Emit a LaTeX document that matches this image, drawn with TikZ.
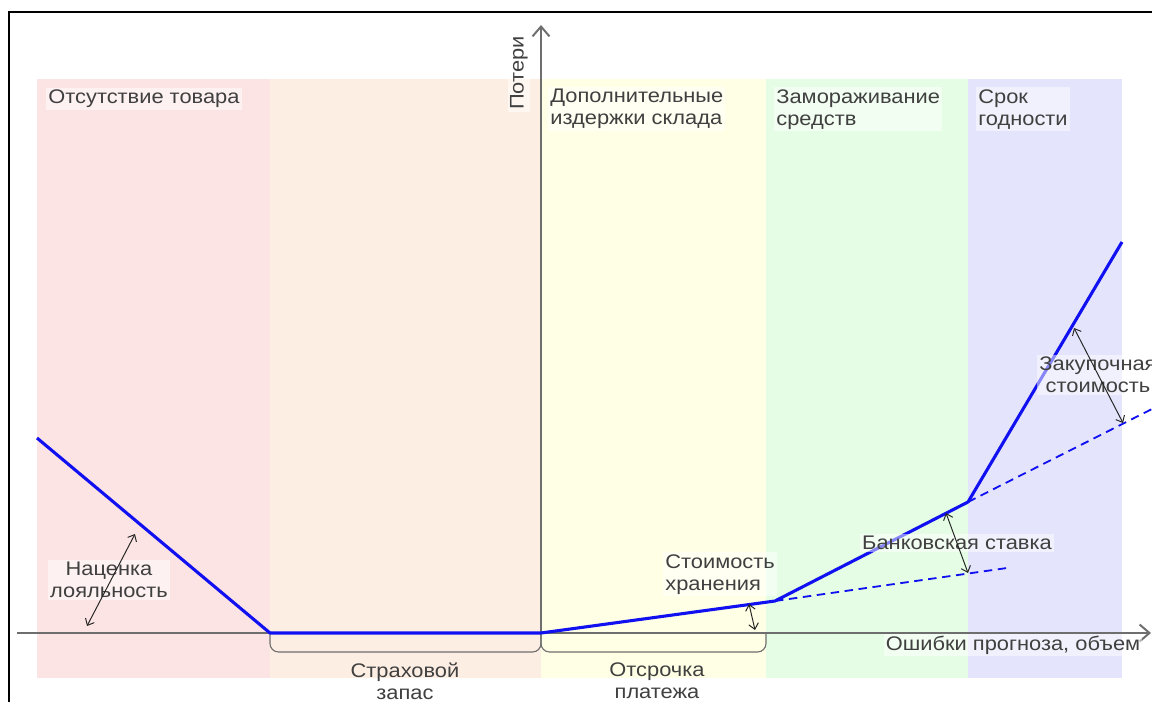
\documentclass[tikz,border=0pt]{standalone}
\usepackage{fontspec}
\setmainfont{Liberation Sans}[FakeStretch=1.11]
\usetikzlibrary{arrows.meta}
\definecolor{bpink}{HTML}{FDE4E4}
\definecolor{bpeach}{HTML}{FDEEE4}
\definecolor{byellow}{HTML}{FFFFE6}
\definecolor{bgreen}{HTML}{E4FDE4}
\definecolor{blav}{HTML}{E4E4FC}
\definecolor{txtgray}{HTML}{404040}
\definecolor{axgray}{HTML}{6E6E6E}
\definecolor{curveblue}{HTML}{1010F0}
\tikzset{
  lbl/.style={font=\fontsize{14}{15.6}\selectfont, text=txtgray, fill=white, fill opacity=0.5, text opacity=1, inner sep=1.5pt},
  plain/.style={font=\fontsize{14}{15.6}\selectfont, text=txtgray},
  axisline/.style={draw=axgray, line width=1.4pt, -{Straight Barb[length=7pt,width=12pt]}},
  curve/.style={draw=curveblue, line width=2.2pt, line join=round},
  dline/.style={draw=curveblue, line width=1.3pt, dash pattern=on 6pt off 4pt},
  dimarrow/.style={draw=black!85, line width=0.7pt, {Straight Barb[length=4pt,width=7pt]}-{Straight Barb[length=4pt,width=7pt]}},
  bracket/.style={draw=axgray, line width=0.8pt, rounded corners=6pt}
}
\begin{document}
\begin{tikzpicture}[x=0.025cm,y=-0.025cm]
\useasboundingbox (0,0) rectangle (1152,702);
\fill[white] (0,0) rectangle (1152,702);
% frame
\draw[black, line width=1.5pt] (9,702) -- (9,12) -- (1152,12);
% bands
\fill[bpink] (37,79) rectangle (270,678);
\fill[bpeach] (270,79) rectangle (541,678);
\fill[byellow] (541,79) rectangle (766,678);
\fill[bgreen] (766,79) rectangle (968,678);
\fill[blav] (968,79) rectangle (1122,678);
% coordinates
\coordinate (p0) at (37,438);
\coordinate (p1) at (270,633);
\coordinate (p2) at (541,633);
\coordinate (p3) at (775,601);
\coordinate (p4) at (968,502);
\coordinate (p5) at (1122,242);
\coordinate (d1) at (1007,568);
\coordinate (d2) at (1152,409);
\coordinate (xs) at (17,633);
\coordinate (xe) at (1151,633);
\coordinate (ys) at (541,633);
\coordinate (ye) at (541,25);
% axes
\draw[axisline] (xs) -- (xe);
\draw[axisline] (ys) -- (ye);
% brackets
\draw[bracket] (p1) -- (270,652) -- (541,652) -- (p2);
\draw[bracket] (p2) -- (541,652) -- (766,652) -- (766,633);
% dashed extensions
\draw[dline] (p3) -- (d1);
\draw[dline] (p4) -- (d2);
% curve
\draw[curve] (p0) -- (p1) -- (p2) -- (p3) -- (p4) -- (p5);
% labels
\node[lbl, anchor=west] (l1) at (46,99) {Отсутствие товара};
\node[lbl, anchor=north west, align=left] (l2) at (548,87) {Дополнительные\\издержки склада};
\node[lbl, anchor=north west, align=left] (l3) at (774,87) {Замораживание\\средств};
\node[lbl, anchor=north west, align=left] (l4) at (976,87) {Срок\\годности};
\node[lbl, rotate=90] (lp) at (519,73) {Потери};
\node[lbl, align=center] (l5) at (109,580) {Наценка\\лояльность};
\node[lbl, anchor=north west, align=left] (l6) at (663,552) {Стоимость\\хранения};
\node[lbl] (l7) at (957,543) {Банковская ставка};
\node[lbl, align=center] (l8) at (1098,375) {Закупочная\\стоимость};
\node[lbl] (l9) at (1013,645) {Ошибки прогноза, объем};
\node[plain, align=center] (l10) at (405,681) {Страховой\\запас};
\node[plain, align=center] (l11) at (657,681) {Отсрочка\\платежа};
% dimension arrows
\coordinate (a1s) at (135,534); \coordinate (a1e) at (87,626);
\coordinate (a2s) at (749,604); \coordinate (a2e) at (755,630);
\coordinate (a3s) at (946,513); \coordinate (a3e) at (968,573);
\coordinate (a4s) at (1074,328); \coordinate (a4e) at (1123,423);
\draw[dimarrow] (a1s) -- (a1e);
\draw[dimarrow] (a2s) -- (a2e);
\draw[dimarrow] (a3s) -- (a3e);
\draw[dimarrow] (a4s) -- (a4e);
\end{tikzpicture}
\end{document}
